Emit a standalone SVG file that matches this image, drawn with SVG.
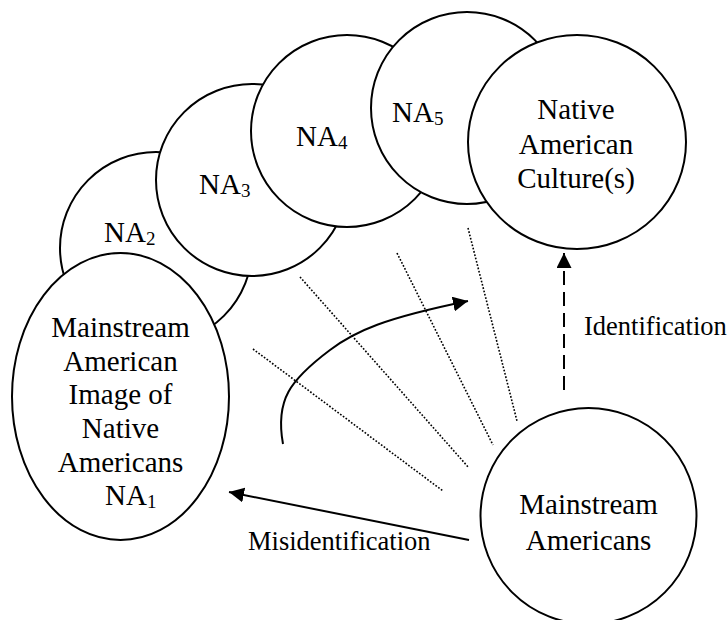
<svg xmlns="http://www.w3.org/2000/svg" width="727" height="620" viewBox="0 0 727 620">
<style>
.n{fill:#fff;stroke:#000;stroke-width:2}
text{font-family:"Liberation Serif","Times New Roman",serif;fill:#000}
.t{font-size:29px}
.c{text-anchor:middle}
.l{font-size:26.5px}
.sub{font-size:19px}
.dot{stroke:#000;stroke-width:1.6;stroke-dasharray:1.7 1.7;fill:none}
.arr{stroke:#000;stroke-width:2;fill:none;marker-end:url(#ah)}
</style>
<defs>
<marker id="ah" markerUnits="userSpaceOnUse" viewBox="0 0 15 15" refX="15" refY="7.5" markerWidth="15" markerHeight="15" orient="auto">
<path d="M0,0 L15,7.5 L0,15 z" fill="#000" stroke="none"/>
</marker>
</defs>
<rect width="727" height="620" fill="#fff"/>
<g id="na2"><circle class="n" cx="156" cy="248" r="96"/><text class="t" x="104" y="242">NA<tspan class="sub" dy="3">2</tspan></text></g>
<g id="na1"><ellipse class="n" cx="120.5" cy="396.5" rx="108.5" ry="143.5"/>
<text class="t c" x="120.5" y="337">Mainstream</text>
<text class="t c" x="120.5" y="371">American</text>
<text class="t c" x="120.5" y="404">Image of</text>
<text class="t c" x="120.5" y="438">Native</text>
<text class="t c" x="120.5" y="472">Americans</text>
<text class="t" x="105" y="505">NA<tspan class="sub" dy="3">1</tspan></text></g>
<g id="na3"><circle class="n" cx="252" cy="180" r="96"/><text class="t" x="199" y="194">NA<tspan class="sub" dy="3">3</tspan></text></g>
<g id="na4"><circle class="n" cx="347" cy="131" r="96"/><text class="t" x="296" y="146">NA<tspan class="sub" dy="3">4</tspan></text></g>
<g id="na5"><circle class="n" cx="467" cy="108" r="96"/><text class="t" x="392" y="122">NA<tspan class="sub" dy="3">5</tspan></text></g>
<g id="nac"><ellipse class="n" cx="577" cy="142" rx="109" ry="107"/>
<text class="t c" x="576" y="119">Native</text>
<text class="t c" x="576" y="154">American</text>
<text class="t c" x="576" y="188">Culture(s)</text></g>
<g id="ma"><circle class="n" cx="588.5" cy="516" r="108"/>
<text class="t c" x="588.5" y="514">Mainstream</text>
<text class="t c" x="588.5" y="550">Americans</text></g>
<g id="connectors">
<line class="dot" x1="253" y1="349" x2="443" y2="491"/>
<line class="dot" x1="300" y1="277" x2="469" y2="468"/>
<line class="dot" x1="397" y1="253" x2="493" y2="445"/>
<line class="dot" x1="468" y1="228" x2="517" y2="421"/>
<path class="arr" d="M283,444 C275,400 290,380 330,350 C355,331 385,318 468,301"/>
<line class="arr" x1="469" y1="540" x2="229" y2="492"/>
<line class="arr" x1="564" y1="390" x2="564" y2="253" stroke-dasharray="14 7"/>
<text class="l" x="248" y="550">Misidentification</text>
<text class="l" x="584" y="335">Identification</text>
</g>
</svg>
